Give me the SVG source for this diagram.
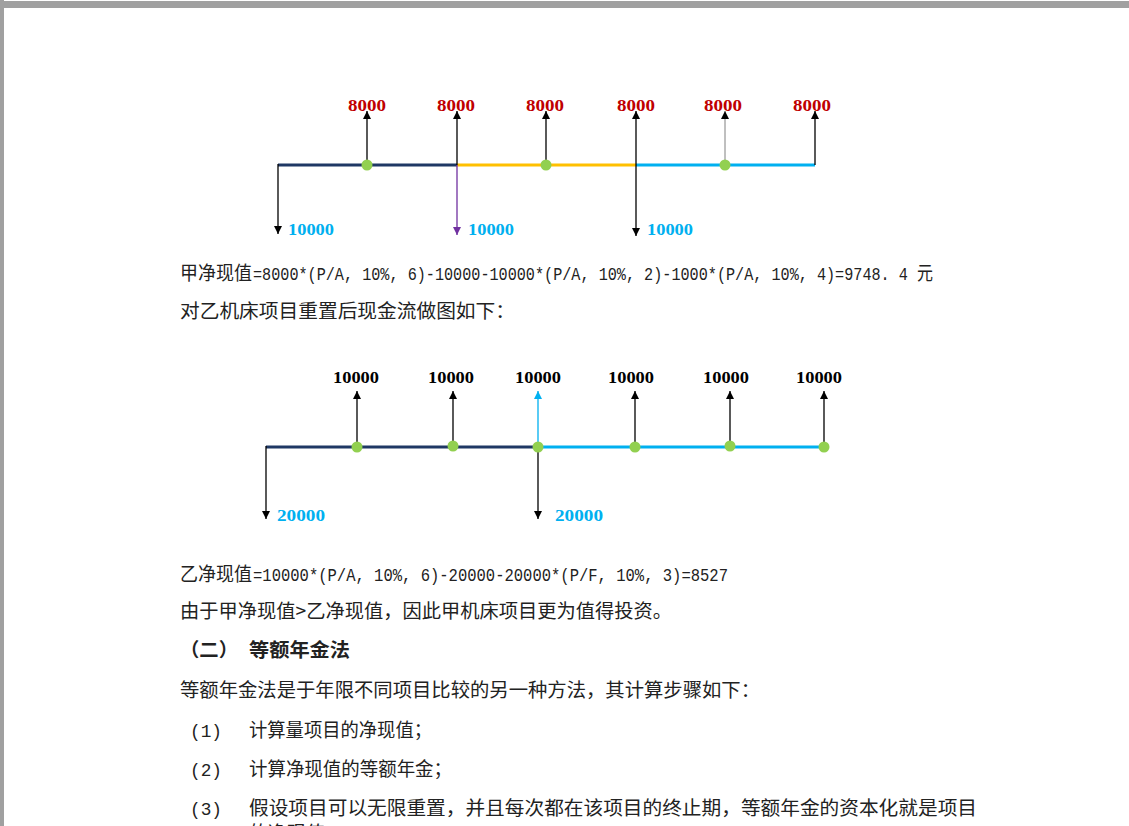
<svg xmlns="http://www.w3.org/2000/svg" width="1129" height="826" viewBox="0 0 1129 826">
<defs>
<style>
.cjk{font-family:"Noto Sans CJK SC","Noto Sans",sans-serif;font-size:19px;fill:#222}
.mono{font-family:"Liberation Mono","Noto Sans CJK SC",monospace;font-size:18px;fill:#222}
.lbl{font-family:"Liberation Serif","Noto Serif",serif;font-weight:bold;font-size:17px}
.red{fill:#c00000}
.blk{fill:#000}
.blu{fill:#00b0f0}
.arr{stroke:#000;stroke-width:1.3;fill:none}
.tl{stroke-width:3;fill:none}
.dot{fill:#92d050}
</style>
<marker id="ah" viewBox="0 0 10 10" refX="10" refY="5" markerWidth="9" markerHeight="8" markerUnits="userSpaceOnUse" orient="auto"><path d="M0,0 L10,5 L0,10 z" fill="#000"/></marker>
<marker id="ahp" viewBox="0 0 10 10" refX="10" refY="5" markerWidth="9" markerHeight="8" markerUnits="userSpaceOnUse" orient="auto"><path d="M0,0 L10,5 L0,10 z" fill="#7030a0"/></marker>
<marker id="ahb" viewBox="0 0 10 10" refX="10" refY="5" markerWidth="9" markerHeight="8" markerUnits="userSpaceOnUse" orient="auto"><path d="M0,0 L10,5 L0,10 z" fill="#00b0f0"/></marker>
</defs>
<rect x="0" y="0" width="1129" height="826" fill="#fff"/>
<rect x="0" y="1" width="1129" height="7" fill="#a0a0a0"/>
<rect x="0" y="0" width="4" height="826" fill="#a0a0a0"/>

<!-- Diagram 1 -->
<g id="diagram1-connectors">
<line class="tl" x1="278" y1="165" x2="457" y2="165" stroke="#1f3864"/>
<line class="tl" x1="457" y1="165" x2="636" y2="165" stroke="#ffc000"/>
<line class="tl" x1="636" y1="165" x2="815" y2="165" stroke="#00b0f0"/>
<line class="arr" x1="367" y1="165" x2="367" y2="111" marker-end="url(#ah)"/>
<line class="arr" x1="457" y1="165" x2="457" y2="111" marker-end="url(#ah)"/>
<line class="arr" x1="546" y1="165" x2="546" y2="111" marker-end="url(#ah)"/>
<line class="arr" x1="636" y1="165" x2="636" y2="111" marker-end="url(#ah)"/>
<line x1="725" y1="165" x2="725" y2="111" stroke="#808080" stroke-width="1" marker-end="url(#ah)"/>
<line class="arr" x1="815" y1="165" x2="815" y2="111" marker-end="url(#ah)"/>
<line class="arr" x1="278" y1="164" x2="278" y2="234" marker-end="url(#ah)"/>
<line x1="457" y1="165" x2="457" y2="235" stroke="#7030a0" stroke-width="1.3" marker-end="url(#ahp)"/>
<line class="arr" x1="636" y1="165" x2="636" y2="236" marker-end="url(#ah)"/>
</g>
<g id="diagram1-nodes">
<circle class="dot" cx="367" cy="165" r="5.5"/>
<circle class="dot" cx="546" cy="165" r="5.5"/>
<circle class="dot" cx="725" cy="165" r="5.5"/>
</g>
<g id="diagram1-labels" text-anchor="middle">
<text class="lbl red" x="367" y="111" textLength="38" lengthAdjust="spacingAndGlyphs">8000</text>
<text class="lbl red" x="456" y="111" textLength="38" lengthAdjust="spacingAndGlyphs">8000</text>
<text class="lbl red" x="545" y="111" textLength="38" lengthAdjust="spacingAndGlyphs">8000</text>
<text class="lbl red" x="636" y="111" textLength="38" lengthAdjust="spacingAndGlyphs">8000</text>
<text class="lbl red" x="723" y="111" textLength="38" lengthAdjust="spacingAndGlyphs">8000</text>
<text class="lbl red" x="812" y="111" textLength="38" lengthAdjust="spacingAndGlyphs">8000</text>
</g>
<g id="diagram1-outflows">
<text class="lbl blu" x="288" y="235" textLength="46" lengthAdjust="spacingAndGlyphs">10000</text>
<text class="lbl blu" x="468" y="235" textLength="46" lengthAdjust="spacingAndGlyphs">10000</text>
<text class="lbl blu" x="647" y="235" textLength="46" lengthAdjust="spacingAndGlyphs">10000</text>
</g>

<g id="text-block-1">
<text class="cjk" x="180" y="280" font-size="18" textLength="72" lengthAdjust="spacingAndGlyphs">甲净现值</text>
<text class="mono" x="253" y="280" textLength="680" lengthAdjust="spacingAndGlyphs">=8000*(P/A, 10%, 6)-10000-10000*(P/A, 10%, 2)-1000*(P/A, 10%, 4)=9748. 4 <tspan class="cjk" font-size="19">元</tspan></text>
<text class="cjk" x="180" y="318" textLength="335" lengthAdjust="spacingAndGlyphs">对乙机床项目重置后现金流做图如下：</text>
</g>

<!-- Diagram 2 -->
<g id="diagram2-connectors">
<line class="tl" x1="266" y1="447" x2="538" y2="447" stroke="#1f3864"/>
<line class="tl" x1="538" y1="447" x2="824" y2="447" stroke="#00b0f0"/>
<line class="arr" x1="357" y1="447" x2="357" y2="391" marker-end="url(#ah)"/>
<line class="arr" x1="453" y1="447" x2="453" y2="391" marker-end="url(#ah)"/>
<line x1="538" y1="447" x2="538" y2="391" stroke="#00b0f0" stroke-width="1.3" marker-end="url(#ahb)"/>
<line class="arr" x1="635" y1="447" x2="635" y2="391" marker-end="url(#ah)"/>
<line class="arr" x1="730" y1="447" x2="730" y2="391" marker-end="url(#ah)"/>
<line class="arr" x1="824" y1="447" x2="824" y2="391" marker-end="url(#ah)"/>
<line class="arr" x1="266" y1="446" x2="266" y2="519" marker-end="url(#ah)"/>
<line class="arr" x1="538" y1="447" x2="538" y2="519" marker-end="url(#ah)"/>
</g>
<g id="diagram2-nodes">
<circle class="dot" cx="357" cy="447" r="5.5"/>
<circle class="dot" cx="453" cy="446" r="5.5"/>
<circle class="dot" cx="538" cy="447" r="5.5"/>
<circle class="dot" cx="635" cy="447" r="5.5"/>
<circle class="dot" cx="730" cy="446" r="5.5"/>
<circle class="dot" cx="824" cy="447" r="5.5"/>
</g>
<g id="diagram2-labels" text-anchor="middle">
<text class="lbl blk" x="356" y="383" textLength="46" lengthAdjust="spacingAndGlyphs">10000</text>
<text class="lbl blk" x="451" y="383" textLength="46" lengthAdjust="spacingAndGlyphs">10000</text>
<text class="lbl blk" x="538" y="383" textLength="46" lengthAdjust="spacingAndGlyphs">10000</text>
<text class="lbl blk" x="631" y="383" textLength="46" lengthAdjust="spacingAndGlyphs">10000</text>
<text class="lbl blk" x="726" y="383" textLength="46" lengthAdjust="spacingAndGlyphs">10000</text>
<text class="lbl blk" x="819" y="383" textLength="46" lengthAdjust="spacingAndGlyphs">10000</text>
</g>
<g id="diagram2-outflows">
<text class="lbl blu" x="277" y="521" textLength="48" lengthAdjust="spacingAndGlyphs">20000</text>
<text class="lbl blu" x="555" y="521" textLength="48" lengthAdjust="spacingAndGlyphs">20000</text>
</g>

<g id="text-block-2">
<text class="cjk" x="180" y="581" font-size="18" textLength="72" lengthAdjust="spacingAndGlyphs">乙净现值</text>
<text class="mono" x="253" y="581" textLength="475" lengthAdjust="spacingAndGlyphs">=10000*(P/A, 10%, 6)-20000-20000*(P/F, 10%, 3)=8527</text>
<text class="cjk" x="180" y="618" textLength="492" lengthAdjust="spacingAndGlyphs">由于甲净现值&gt;乙净现值，因此甲机床项目更为值得投资。</text>
<text class="cjk" x="180" y="657" font-weight="bold" textLength="58" lengthAdjust="spacingAndGlyphs">（二）</text>
<text class="cjk" x="249" y="657" font-weight="bold" textLength="101" lengthAdjust="spacingAndGlyphs">等额年金法</text>
<text class="cjk" x="180" y="697" textLength="580" lengthAdjust="spacingAndGlyphs">等额年金法是于年限不同项目比较的另一种方法，其计算步骤如下：</text>
<text class="mono" x="190" y="737" font-size="19" textLength="32" lengthAdjust="spacingAndGlyphs">(1)</text>
<text class="cjk" x="249" y="737" textLength="183" lengthAdjust="spacingAndGlyphs">计算量项目的净现值；</text>
<text class="mono" x="190" y="776" font-size="19" textLength="32" lengthAdjust="spacingAndGlyphs">(2)</text>
<text class="cjk" x="249" y="776" textLength="203" lengthAdjust="spacingAndGlyphs">计算净现值的等额年金；</text>
<text class="mono" x="190" y="815" font-size="19" textLength="32" lengthAdjust="spacingAndGlyphs">(3)</text>
<text class="cjk" x="249" y="815" textLength="728" lengthAdjust="spacingAndGlyphs">假设项目可以无限重置，并且每次都在该项目的终止期，等额年金的资本化就是项目</text>
<text class="cjk" x="249" y="840">的净现值。</text>
</g>
</svg>
